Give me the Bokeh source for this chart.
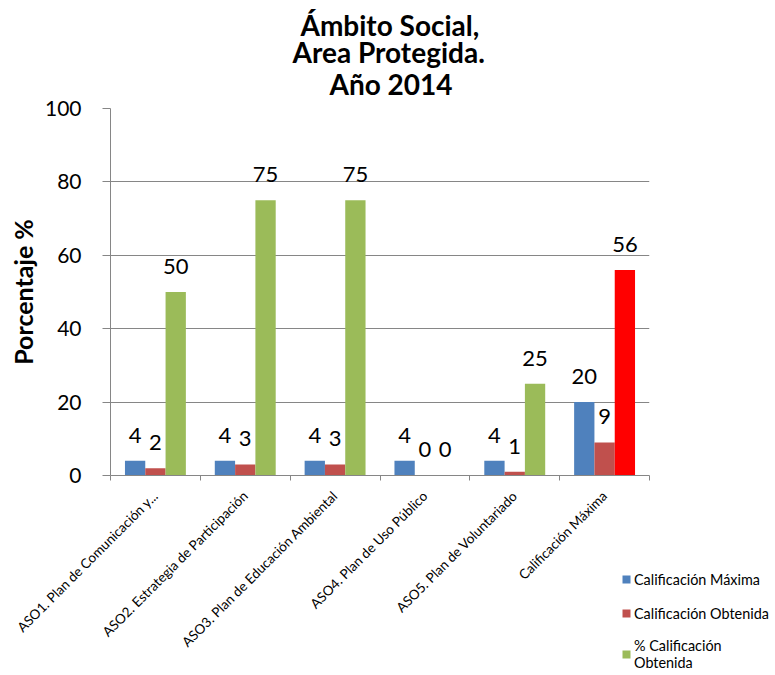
import math
from bokeh.plotting import figure
from bokeh.models import Range1d, FixedTicker, ColumnDataSource, Legend, LegendItem, Title
from bokeh.core.properties import value
from bokeh.embed import file_html
from bokeh.resources import INLINE

# ---------------- data ----------------
categories = [
    "ASO1. Plan de Comunicación y...",
    "ASO2. Estrategia de Participación",
    "ASO3. Plan de Educación Ambiental",
    "ASO4. Plan de Uso Público",
    "ASO5. Plan de Voluntariado",
    "Calificación Máxima",
]
calif_maxima = [4, 4, 4, 4, 4, 20]
calif_obtenida = [2, 3, 3, 0, 1, 9]
pct_obtenida = [50, 75, 75, 0, 25, 56]
series_names = ["Calificación Máxima", "Calificación Obtenida", "% Calificación\nObtenida"]
title_lines = ["Ámbito Social,", "Area Protegida.", "Año 2014"]
y_axis_title = "Porcentaje %"
y_ticks = [0, 20, 40, 60, 80, 100]

# ---------------- style ----------------
BLUE = "#4F81BD"
RED = "#C0504D"
GREEN = "#9BBB59"
BRIGHT_RED = "#FF0000"
GRID = "#868686"
FONT = "Lato"
BAR_W = 0.226
LABEL_GAP = 7.0  # data units above bar top

n = len(categories)
centers = [i + 0.5 for i in range(n)]
pct_colors = [BRIGHT_RED if i == n - 1 else GREEN for i in range(n)]

p = figure(
    frame_width=539, frame_height=367,
    x_range=Range1d(0, n), y_range=Range1d(0, 100),
    output_backend="svg", toolbar_location=None,
    min_border_left=110, min_border_top=108,
    min_border_right=121, min_border_bottom=200,
    background_fill_color="white", border_fill_color="white",
)
p.outline_line_color = None
p.xgrid.visible = False
p.ygrid.ticker = FixedTicker(ticks=y_ticks)
p.ygrid.grid_line_color = GRID
p.ygrid.grid_line_width = 1

# y axis
ya = p.yaxis[0]
ya.ticker = FixedTicker(ticks=y_ticks, minor_ticks=[])
ya.axis_line_color = GRID
ya.major_tick_line_color = GRID
ya.major_tick_out = 8
ya.major_tick_in = 0
ya.minor_tick_line_color = None
ya.major_label_text_font = FONT
ya.major_label_text_font_size = "21px"
ya.major_label_text_color = "black"
ya.major_label_standoff = 21
ya.axis_label = y_axis_title
ya.axis_label_text_font = FONT
ya.axis_label_text_font_style = "bold"
ya.axis_label_text_font_size = "25px"
ya.axis_label_text_color = "black"
ya.axis_label_standoff = 4

# x axis
xa = p.xaxis[0]
xa.ticker = FixedTicker(ticks=centers, minor_ticks=list(range(n + 1)))
xa.major_label_overrides = {c: cat for c, cat in zip(centers, categories)}
xa.axis_line_color = GRID
xa.major_tick_line_color = None
xa.minor_tick_line_color = GRID
xa.minor_tick_out = 5
xa.minor_tick_in = 0
xa.major_label_orientation = math.pi / 4
xa.major_label_text_font = FONT
xa.major_label_text_font_size = "13.5px"
xa.major_label_text_color = "black"
xa.major_label_standoff = 12

# bars
offsets = [-BAR_W, 0.0, BAR_W]
series = [calif_maxima, calif_obtenida, pct_obtenida]
colors = [[BLUE] * n, [RED] * n, pct_colors]
renderers = []
for vals, off, cols in zip(series, offsets, colors):
    src = ColumnDataSource(dict(x=[c + off for c in centers], top=vals, color=cols,
                                ly=[v + LABEL_GAP for v in vals], txt=[str(v) for v in vals]))
    r = p.vbar(x="x", top="top", bottom=0, width=BAR_W, fill_color="color",
               line_color=None, source=src)
    renderers.append(r)
    p.text(x="x", y="ly", text="txt", source=src, text_font=value(FONT),
           text_font_size="22px", text_align="center", text_baseline="middle",
           text_color="black")

# title (three centred lines; offsets place each line's centre at x≈392)
title_offsets = [190, 182, 219]
title_standoffs = [7, -25, 16]
for line, off, so in reversed(list(zip(title_lines, title_offsets, title_standoffs))):
    p.add_layout(Title(text=line, align="left", offset=off, standoff=so,
                       text_font=FONT, text_font_style="bold", text_font_size="28px",
                       text_color="black"), "above")

# legend
items = [LegendItem(label=name, renderers=[r], index=0) for name, r in zip(series_names, renderers)]
legend = Legend(items=items, location=(-28, -196), orientation="vertical")
legend.label_text_font = FONT
legend.label_text_font_size = "14.4px"
legend.label_text_line_height = 1.32
legend.label_text_color = "black"
legend.glyph_width = 10
legend.glyph_height = 10
legend.label_height = 20
legend.label_standoff = 3
legend.padding = 0
legend.margin = -20
legend.spacing = 14
legend.border_line_color = None
legend.background_fill_alpha = 0
p.add_layout(legend, "right")

open("out.html", "w").write(file_html(p, INLINE))
